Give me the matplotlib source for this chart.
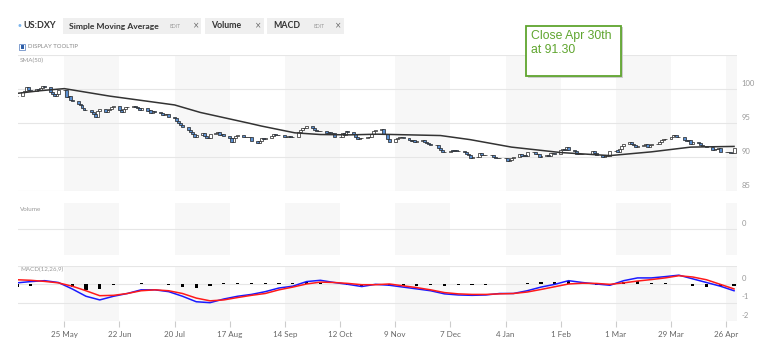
import numpy as np
import pandas as pd
import matplotlib
matplotlib.use("Agg")
import matplotlib.pyplot as plt
import matplotlib.dates as mdates
import matplotlib.transforms as mtransforms
from matplotlib.patches import Rectangle

# ---- data ----
# daily closes (business days, 1 May 2020 .. 30 Apr 2021), one row per week
first_open = 98.95
closes = [
    99.05,
    99.55, 99.75, 100.30, 99.85, 99.75,
    100.05, 99.95, 100.20, 100.45, 100.40,
    99.60, 99.25, 99.05, 99.35, 99.85,
    99.90, 98.90, 99.05, 98.40, 98.35,
    97.85, 97.70, 97.25, 96.95, 96.95,
    96.65, 96.30, 95.95, 96.75, 97.05,
    96.70, 96.95, 97.15, 97.45, 97.60,
    96.95, 96.65, 97.15, 97.40, 97.45,
    97.50, 97.40, 97.25, 97.00, 97.20,
    96.85, 96.95, 96.45, 96.75, 96.70,
    96.55, 96.15, 96.30, 96.35, 95.95,
    95.80, 95.40, 95.05, 94.75, 94.45,
    94.00, 93.75, 93.45, 92.95, 93.35,
    93.55, 93.10, 92.85, 92.80, 93.40,
    93.60, 93.65, 93.35, 93.40, 93.10,
    92.90, 92.30, 92.80, 93.20, 93.25,
    93.00, 93.00, 92.95, 93.05, 92.40,
    92.15, 92.40, 92.80, 92.75, 92.85,
    93.10, 93.45, 93.25, 93.35, 93.30,
    93.05, 93.05, 93.20, 92.95, 92.95,
    93.65, 94.05, 94.35, 94.35, 94.65,
    94.30, 93.95, 93.85, 93.80, 93.85,
    93.50, 93.65, 93.60, 93.60, 93.05,
    93.05, 93.50, 93.35, 93.80, 93.70,
    93.40, 93.05, 92.65, 92.90, 92.80,
    93.00, 93.05, 93.45, 93.85, 94.05,
    94.15, 93.45, 93.40, 92.75, 92.25,
    92.70, 92.85, 93.00, 92.95, 92.80,
    92.55, 92.45, 92.50, 92.30, 92.40,
    92.50, 92.25, 92.05, 92.00, 91.80,
    91.85, 91.30, 91.05, 90.75, 90.75,
    91.00, 90.95, 91.05, 90.90, 90.95,
    90.75, 90.45, 90.40, 89.85, 90.05,
    90.10, 90.60, 90.30, 90.35, 90.30,
    90.35, 90.05, 89.95, 89.95, 89.85,
    89.95, 89.45, 89.55, 89.85, 90.05,
    90.50, 90.15, 90.35, 90.25, 90.75,
    90.75, 90.55, 90.50, 90.10, 90.25,
    90.40, 90.15, 90.65, 90.60, 90.55,
    91.00, 91.15, 91.05, 91.55, 91.00,
    90.95, 90.45, 90.45, 90.45, 90.45,
    90.45, 90.50, 90.95, 90.60, 90.35,
    90.05, 90.15, 90.20, 90.15, 90.95,
    91.00, 90.75, 91.20, 91.60, 91.95,
    92.30, 92.00, 91.80, 91.45, 91.70,
    91.85, 91.90, 91.45, 91.85, 91.90,
    91.90, 92.30, 92.50, 92.75, 92.75,
    92.95, 93.25, 93.25, 93.00, 92.95,
    92.60, 92.35, 92.50, 92.00, 92.20,
    92.15, 91.80, 91.70, 91.65, 91.55,
    91.10, 91.25, 91.20, 91.30, 90.85,
    90.85, 90.80, 90.60, 90.60, 91.30,
]

sma_dates = ["2020-05-01", "2020-05-13", "2020-05-25", "2020-06-17", "2020-07-20",
             "2020-08-02", "2020-08-27", "2020-09-02", "2020-09-19", "2020-10-02",
             "2020-10-17", "2020-10-31", "2020-12-02", "2020-12-17", "2021-01-07",
             "2021-02-01", "2021-02-26", "2021-03-19", "2021-04-08", "2021-04-30"]
sma_values = [99.4, 99.8, 100.1, 99.0, 97.7,
              96.6, 95.0, 94.6, 93.6, 93.35,
              93.3, 93.4, 93.2, 92.6, 91.5,
              90.7, 90.25, 90.8, 91.5, 91.6]

# MACD(12,26,9), weekly readings (Fridays)
macd_line = [0.08, 0.15, 0.2, 0.1, -0.25, -0.65, -0.85, -0.65, -0.5, -0.3,
             -0.3, -0.4, -0.65, -0.95, -1.0, -0.8, -0.65, -0.55, -0.4, -0.2,
             -0.1, 0.15, 0.22, 0.1, 0.0, -0.12, 0.0, -0.05, -0.15, -0.25,
             -0.35, -0.52, -0.58, -0.6, -0.58, -0.5, -0.5, -0.35, -0.15, 0.0,
             0.2, 0.1, 0.02, -0.05, 0.2, 0.35, 0.35, 0.42, 0.5, 0.3,
             0.1, -0.1, -0.35]
signal_line = [0.25, 0.22, 0.16, 0.08, -0.1, -0.35, -0.62, -0.6, -0.5, -0.35,
               -0.3, -0.35, -0.5, -0.75, -0.9, -0.85, -0.72, -0.6, -0.5, -0.3,
               -0.15, 0.02, 0.12, 0.1, 0.05, -0.02, -0.02, 0.02, -0.08, -0.18,
               -0.3, -0.45, -0.52, -0.55, -0.55, -0.52, -0.5, -0.42, -0.28, -0.13,
               0.02, 0.06, 0.05, 0.0, 0.08, 0.18, 0.26, 0.35, 0.47, 0.4,
               0.25, 0.0, -0.25]

tick_dates = ["2020-05-25", "2020-06-22", "2020-07-20", "2020-08-17", "2020-09-14",
              "2020-10-12", "2020-11-09", "2020-12-07", "2021-01-04", "2021-02-01",
              "2021-03-01", "2021-03-29", "2021-04-26"]
tick_labels = ["25 May", "22 Jun", "20 Jul", "17 Aug", "14 Sep", "12 Oct", "9 Nov",
               "7 Dec", "4 Jan", "1 Feb", "1 Mar", "29 Mar", "26 Apr"]

last_close_text = "Close Apr 30th\nat 91.30"

# ---- setup ----
W, H = 768, 353
GRID = "#e6e6e6"
SHADE = "#f7f7f7"
LABEL = "#999999"

days = mdates.date2num(pd.bdate_range("2020-05-01", "2021-04-30"))
weeks = mdates.date2num(pd.date_range("2020-05-01", "2021-04-30", freq="W-FRI"))
sma_x = mdates.date2num(pd.to_datetime(sma_dates))
ticks = mdates.date2num(pd.to_datetime(tick_dates))
xmin = mdates.date2num(pd.Timestamp("2020-05-01 12:00"))
xmax = mdates.date2num(pd.Timestamp("2021-05-01 12:00"))

closes = np.array(closes)
opens = np.concatenate([[first_open], closes[:-1]])


def fx(px):
    return px / W


def fy(py):
    return 1 - py / H


fig = plt.figure(figsize=(W / 100, H / 100), dpi=100)
fig.patch.set_facecolor("white")

ax_p = fig.add_axes([fx(18), fy(191.3), fx(719), 136 / H])
ax_v = fig.add_axes([fx(18), fy(255), fx(719), 52 / H])
ax_m = fig.add_axes([fx(18), fy(321), fx(719), 55 / H])


def base_panel(ax, ymin, ymax, grid, labels):
    ax.set_xlim(xmin, xmax)
    ax.set_ylim(ymin, ymax)
    for s in ax.spines.values():
        s.set_visible(False)
    ax.set_yticks([])
    ax.set_xticks([])
    # alternating shaded bands every 4 weeks
    for i in range(0, len(ticks), 2):
        right = ticks[i + 1] if i + 1 < len(ticks) else xmax
        ax.axvspan(ticks[i], right, color=SHADE, lw=0, zorder=0)
    for g in grid:
        ax.axhline(g, color=GRID, lw=0.8, zorder=1)
    trans = mtransforms.blended_transform_factory(ax.transAxes, ax.transData)
    off = mtransforms.offset_copy(trans, fig=fig, x=0, y=2.5, units="dots")
    for val, txt in labels:
        ax.text(1.006, val, txt, transform=off, fontsize=5.5, color=LABEL,
                ha="left", va="bottom", family="Lato")


# price panel
base_panel(ax_p, 85, 105, [85, 90, 95, 100, 105],
           [(85, "85"), (90, "90"), (95, "95"), (100, "100")])
up = closes >= opens
body = closes - opens
ax_p.bar(days[up], body[up], bottom=opens[up], width=1.5, color="white",
         edgecolor="#222222", linewidth=0.5, zorder=3)
ax_p.bar(days[~up], body[~up], bottom=opens[~up], width=1.5, color="#5b8fd0",
         edgecolor="#222222", linewidth=0.5, zorder=3)
ax_p.plot(sma_x, sma_values, color="#333333", lw=1.1, zorder=4)
ax_p.text(0.003, 0.985, "SMA(50)", transform=ax_p.transAxes, fontsize=4.5,
          color=LABEL, va="top", family="Lato")

# volume panel (empty)
base_panel(ax_v, -1, 1, [0], [(0, "0")])
ax_v.text(0.003, 0.93, "Volume", transform=ax_v.transAxes, fontsize=4.5,
          color=LABEL, va="top", family="Lato")

# macd panel
base_panel(ax_m, -2, 1, [-2, -1, 0, 1], [(0, "0"), (-1, "-1"), (-2, "-2")])
hist = np.array(macd_line) - np.array(signal_line)
ax_m.bar(weeks, hist, width=1.6, color="black", zorder=2)
ax_m.plot(weeks, macd_line, color="#1a1aff", lw=1.1, zorder=3)
ax_m.plot(weeks, signal_line, color="#ff1a1a", lw=1.1, zorder=4)
ax_m.text(0.003, 0.98, "MACD(12,26,9)", transform=ax_m.transAxes, fontsize=4.5,
          color=LABEL, va="top", family="Lato")
ax_m.set_xticks(ticks)
ax_m.set_xticklabels(tick_labels, fontsize=5.8, color="#666666", family="Lato")
ax_m.tick_params(axis="x", length=4, color="#cccccc", pad=3)

# ---- header bar ----
def box(x0, x1, y0, y1, **kw):
    fig.add_artist(Rectangle((fx(x0), fy(y1)), fx(x1 - x0), (y1 - y0) / H,
                             transform=fig.transFigure, **kw))


fig.text(fx(19), fy(26), "\u2022", color="#7cb5ec", fontsize=7, va="center", ha="center")
fig.text(fx(23), fy(26), "US:DXY", color="#333333", fontsize=6.5, va="center",
         family="Lato", weight="bold")
box(63, 201, 18, 34, color="#efefef", lw=0)
fig.text(fx(69), fy(26), "Simple Moving Average", color="#333333", fontsize=6.1,
         va="center", family="Lato", weight="bold")
fig.text(fx(170), fy(26), "EDIT", color=LABEL, fontsize=3.6, va="center", family="Lato")
fig.text(fx(193), fy(26), "\u00d7", color="#666666", fontsize=5.5, va="center")
box(205, 264, 18, 34, color="#efefef", lw=0)
fig.text(fx(211), fy(26), "Volume", color="#333333", fontsize=6.3, va="center",
         family="Lato", weight="bold")
fig.text(fx(255), fy(26), "\u00d7", color="#666666", fontsize=5.5, va="center")
box(267, 344, 18, 34, color="#efefef", lw=0)
fig.text(fx(273), fy(26), "MACD", color="#333333", fontsize=6.3, va="center",
         family="Lato", weight="bold")
fig.text(fx(313), fy(26), "EDIT", color=LABEL, fontsize=3.6, va="center", family="Lato")
fig.text(fx(335), fy(26), "\u00d7", color="#666666", fontsize=5.5, va="center")

box(19, 25, 44, 50, facecolor="white", edgecolor="#6d8fc7", lw=0.6)
box(20.5, 23.5, 45.5, 48.5, color="#2f5fa8", lw=0)
fig.text(fx(28), fy(47), "DISPLAY TOOLTIP", color="#888888", fontsize=4.3,
         va="center", family="Lato")

# ---- last close note ----
box(527.5, 622.5, 27.5, 77.5, color="#cccccc", lw=0)
box(526, 621, 26, 76, facecolor="white", edgecolor="#5fa52e", lw=1.3)
fig.text(fx(531), fy(29.5), last_close_text, color="#5fa52e", fontsize=8.8,
         va="top", ha="left", family="Liberation Sans", linespacing=1.3)

fig.savefig("out.png", dpi=100)
